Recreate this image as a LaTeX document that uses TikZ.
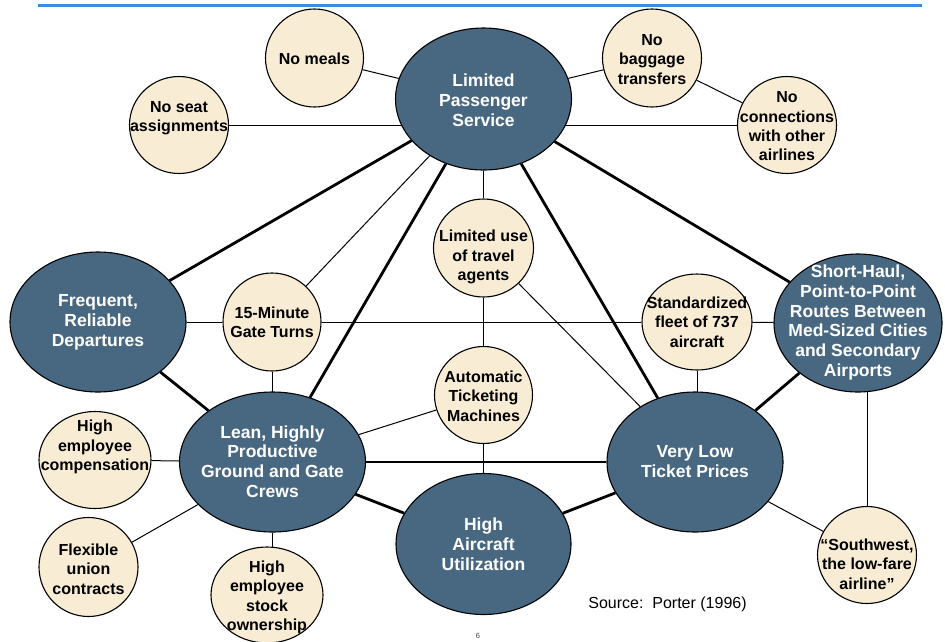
\documentclass[tikz,border=0pt]{standalone}
\usepackage{fontspec}
\setmainfont{Liberation Sans}
\usetikzlibrary{shapes.geometric}
\definecolor{bluefill}{HTML}{486882}
\definecolor{creamfill}{HTML}{F8EDD4}
\definecolor{rulecol}{HTML}{3A8DE4}
\pgfdeclarelayer{background}
\pgfsetlayers{background,main}
\begin{document}
\begin{tikzpicture}[x=1pt,y=-1pt,
  bigell/.style={ellipse, draw=black, line width=1.1pt, fill=bluefill, inner sep=0pt},
  smallell/.style={ellipse, draw=black, line width=1.1pt, fill=creamfill, inner sep=0pt},
  btxt/.style={text=white, font=\fontsize{17.5}{19.8}\selectfont\bfseries, align=center, inner sep=0pt},
  ctxt/.style={text=black, font=\fontsize{16}{19.3}\selectfont\bfseries, align=center, inner sep=0pt},
  thinlink/.style={line width=1pt},
  thicklink/.style={line width=2.8pt},
  toprule/.style={draw=rulecol, line width=2.6pt}
]
\useasboundingbox (0,0) rectangle (945,641);
\draw[toprule] (38,5.5) -- (922,5.5);

% big ellipses
\node[bigell, minimum width=176, minimum height=142] (lps) at (483.5,99) {};
\node[bigell, minimum width=176, minimum height=140] (frd) at (98,322) {};
\node[bigell, minimum width=168, minimum height=138] (shp) at (858,323) {};
\node[bigell, minimum width=186, minimum height=140] (lean) at (272.5,462) {};
\node[bigell, minimum width=176, minimum height=140] (vlp) at (695,462) {};
\node[bigell, minimum width=175, minimum height=141] (hau) at (483.5,544) {};

% small circles
\node[smallell, minimum width=98, minimum height=98] (nml) at (314.5,58) {};
\node[smallell, minimum width=99, minimum height=97] (nsa) at (179,125) {};
\node[smallell, minimum width=99, minimum height=98] (nbt) at (652,58) {};
\node[smallell, minimum width=99, minimum height=97] (nco) at (787,125) {};
\node[smallell, minimum width=98, minimum height=98] (fmg) at (272,322) {};
\node[smallell, minimum width=100, minimum height=98] (lua) at (483.5,248) {};
\node[smallell, minimum width=110, minimum height=96] (std) at (697,322) {};
\node[smallell, minimum width=98, minimum height=97] (atm) at (483.5,395) {};
\node[smallell, minimum width=112, minimum height=97] (hec) at (95,460) {};
\node[smallell, minimum width=99, minimum height=99] (fuc) at (88.5,567) {};
\node[smallell, minimum width=112, minimum height=96] (heo) at (267,595) {};
\node[smallell, minimum width=99, minimum height=97] (sw) at (867,555) {};

% texts
\node[btxt] (lps-t) at (483.5,100) {Limited\\Passenger\\Service};
\node[btxt] (frd-t) at (98,322) {Frequent,\\Reliable\\Departures};
\node[btxt] (shp-t) at (858,322.5) {Short-Haul,\\Point-to-Point\\Routes Between\\Med-Sized Cities\\and Secondary\\Airports};
\node[btxt] (lean-t) at (272.5,461.5) {Lean, Highly\\Productive\\Ground and Gate\\Crews};
\node[btxt] (vlp-t) at (695,461.5) {Very Low\\Ticket Prices};
\node[btxt] (hau-t) at (483.5,544) {High\\Aircraft\\Utilization};

\node[ctxt] (nml-t) at (314.5,59) {No meals};
\node[ctxt] (nsa-t) at (179,118.5) {No seat\\assignments};
\node[ctxt] (nbt-t) at (652,59.5) {No\\baggage\\transfers};
\node[ctxt] (nco-t) at (787,126.5) {No\\connections\\with other\\airlines};
\node[ctxt] (fmg-t) at (272,322.5) {15-Minute\\Gate Turns};
\node[ctxt] (lua-t) at (483.5,257) {Limited use\\of travel\\agents};
\node[ctxt] (std-t) at (697,322) {Standardized\\fleet of 737\\aircraft};
\node[ctxt] (atm-t) at (483.5,396) {Automatic\\Ticketing\\Machines};
\node[ctxt] (hec-t) at (95,447) {High\\employee\\compensation};
\node[ctxt] (fuc-t) at (88.5,569) {Flexible\\union\\contracts};
\node[ctxt] (heo-t) at (267,597.5) {High\\employee\\stock\\ownership};
\node[ctxt] (sw-t) at (867,564) {“Southwest,\\the low-fare\\airline”};

\node[font=\fontsize{16}{19}\selectfont, inner sep=0pt] (src) at (667.5,604) {Source:\ \ Porter (1996)};
\node[font=\fontsize{7.5}{8}\selectfont, text=black!75, inner sep=0pt] (pg) at (478,636) {6};

\begin{pgfonlayer}{background}
% thin links
\draw[thinlink] (nml) -- (lps);
\draw[thinlink] (lps) -- (nbt);
\draw[thinlink] (nbt) -- (nco);
\draw[thinlink] (nsa) -- (nsa -| lps);
\draw[thinlink] (lps |- nco) -- (nco);
\draw[thinlink] (lps) -- (fmg);
\draw[thinlink] (lps) -- (lua);
\draw[thinlink] (frd) -- (fmg);
\draw[thinlink] (fmg) -- (std);
\draw[thinlink] (std) -- (shp);
\draw[thinlink] (fmg) -- (fmg |- lean);
\draw[thinlink] (lua) -- (atm);
\draw[thinlink] (lua) -- (vlp);
\draw[thinlink] (atm) -- (lean);
\draw[thinlink] (atm) -- (hau);
\draw[thinlink] (std) -- (std |- vlp);
\draw[thinlink] (sw |- shp) -- (sw);
\draw[thinlink] (vlp) -- (sw);
\draw[thinlink] (lean) -- (hec);
\draw[thinlink] (lean) -- (fuc);
\draw[thinlink] (lean) -- (lean |- heo);
% thick links
\draw[thicklink] (lps) -- (frd);
\draw[thicklink] (lps) -- (lean);
\draw[thicklink] (lps) -- (vlp);
\draw[thicklink] (lps) -- (shp);
\draw[thicklink] (frd) -- (lean);
\draw[thicklink] (lean) -- (hau);
\draw[thicklink] (hau) -- (vlp);
\draw[thicklink] (shp) -- (vlp);
\draw[line width=2.4pt] (lean) -- (vlp);
\end{pgfonlayer}
\end{tikzpicture}
\end{document}
